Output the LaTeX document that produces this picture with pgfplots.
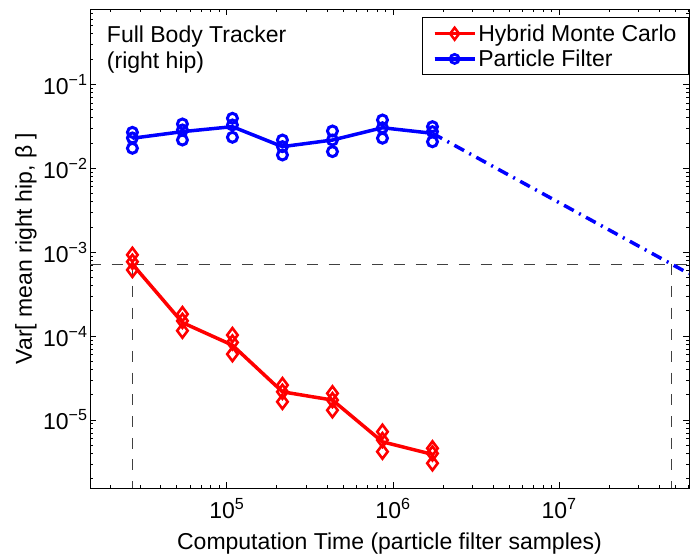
\documentclass[border=0pt]{standalone}
\usepackage{fontspec}
\setmainfont{Liberation Sans}
\usepackage{pgfplots}
\pgfplotsset{compat=1.18}

\definecolor{hmc}{RGB}{255,0,0}
\definecolor{pf}{RGB}{0,0,255}

\newcommand{\bigfont}{\fontsize{23}{27}\selectfont}

\begin{document}
\begin{tikzpicture}
\begin{axis}[
  width=599pt, height=479pt, scale only axis,
  xmode=log, ymode=log, log basis x=10, log basis y=10,
  xmin=1.5e4, xmax=6.05e7,
  ymin=1.55e-6, ymax=0.79,
  xticklabel={\pgfmathtruncatemacro\e{round(\tick)}10\textsuperscript{\e}},
  yticklabel={\pgfmathtruncatemacro\e{abs(round(\tick))}10\textsuperscript{−\e}},
  tick label style={font=\bigfont},
  xticklabel style={yshift=-7pt},
  yticklabel style={xshift=1pt},
  major tick length=6pt, minor tick length=3pt,
  tick style={black, line width=0.8pt},
  axis line style={line width=1pt},
  xlabel={Computation Time (particle filter samples)},
  ylabel={Var[ mean right hip, β ]},
  label style={font=\bigfont},
  xlabel style={at={(axis description cs:0.5,-0.115)}, anchor=center},
  ylabel style={at={(axis description cs:-0.107,0.5)}, anchor=center},
  legend style={at={(axis description cs:1,0.983)}, anchor=north east,
    font=\bigfont, draw=black, line width=1pt, fill=white,
    nodes={inner sep=2pt}, row sep=3pt, inner xsep=10pt, inner ysep=5pt},
  legend cell align=left,
  legend image code/.code={
    \draw[#1] (0cm,0cm) -- (20pt,0cm) -- (40pt,0cm);
    \draw[#1, mark repeat=2, mark phase=2] plot coordinates {(0pt,0pt) (20pt,0pt) (40pt,0pt)};
  },
]

% reference lines (black dashed)
\addplot[black!75, line width=1.3pt, dash pattern=on 11pt off 10.7pt, forget plot]
  coordinates {(1.5e4,7.2e-4) (6.05e7,7.2e-4)};
\addplot[black!75, line width=1.3pt, dash pattern=on 11pt off 10.7pt, forget plot]
  coordinates {(27000,7.2e-4) (27000,1.55e-6)};
\addplot[black!75, line width=1.3pt, dash pattern=on 11pt off 10.7pt, forget plot]
  coordinates {(4.76e7,7.2e-4) (4.76e7,1.55e-6)};

% particle filter extrapolation
\addplot[pf, line width=3.5pt, dash pattern=on 11pt off 6pt on 2pt off 6pt, forget plot]
  coordinates {(1728000,0.0261) (6.05e7,5.55e-4)};

% Hybrid Monte Carlo
\addplot[hmc, line width=3.5pt, forget plot] coordinates {
  (27000,7.2e-4) (54000,1.45e-4) (108000,7.8e-5) (216000,2.17e-5)
  (432000,1.73e-5) (864000,5.5e-6) (1728000,3.9e-6)};
\addplot[hmc, only marks, mark=diamond, mark size=7pt, mark options={solid, line width=2.6pt}, forget plot]
  coordinates {
  (27000,9.3e-4) (54000,1.83e-4) (108000,1.03e-4) (216000,2.61e-5)
  (432000,2.08e-5) (864000,7.26e-6) (1728000,4.6e-6)
  (27000,7.7e-4) (54000,1.52e-4) (108000,8.4e-5) (216000,2.17e-5)
  (432000,1.73e-5) (864000,5.78e-6) (1728000,4.0e-6)
  (27000,6.15e-4) (54000,1.16e-4) (108000,6.1e-5) (216000,1.65e-5)
  (432000,1.31e-5) (864000,4.2e-6) (1728000,3.06e-6)};

% Particle Filter
\addplot[pf, line width=3.5pt, forget plot] coordinates {
  (27000,0.0228) (54000,0.0273) (108000,0.0313) (216000,0.0181)
  (432000,0.0217) (864000,0.0304) (1728000,0.0261)};
\addplot[pf, only marks, mark=o, mark size=5pt, mark options={solid, line width=3pt}, forget plot]
  coordinates {
  (27000,0.0268) (54000,0.0337) (108000,0.0394) (216000,0.0217)
  (432000,0.0278) (864000,0.0376) (1728000,0.0313)
  (27000,0.0230) (54000,0.0286) (108000,0.0328) (216000,0.0181)
  (432000,0.0217) (864000,0.0304) (1728000,0.0273)
  (27000,0.0173) (54000,0.0217) (108000,0.0234) (216000,0.0144)
  (432000,0.0158) (864000,0.0228) (1728000,0.0207)};

\addlegendimage{hmc, line width=3.5pt, mark=diamond, mark size=6pt, mark options={solid, line width=2.5pt}}
\addlegendentry{Hybrid Monte Carlo}
\addlegendimage{pf, line width=3.5pt, mark=o, mark size=4.5pt, mark options={solid, line width=2.8pt}}
\addlegendentry{Particle Filter}

\node[anchor=north west, align=left, inner sep=0pt, font=\fontsize{23}{26}\selectfont]
  at (axis description cs:0.028,0.965) {Full Body Tracker\\(right hip)};
\end{axis}
\path (current axis.south west) ++(-90pt,-68pt);
\path (current axis.north east) ++(1pt,9pt);
\end{tikzpicture}
\end{document}
